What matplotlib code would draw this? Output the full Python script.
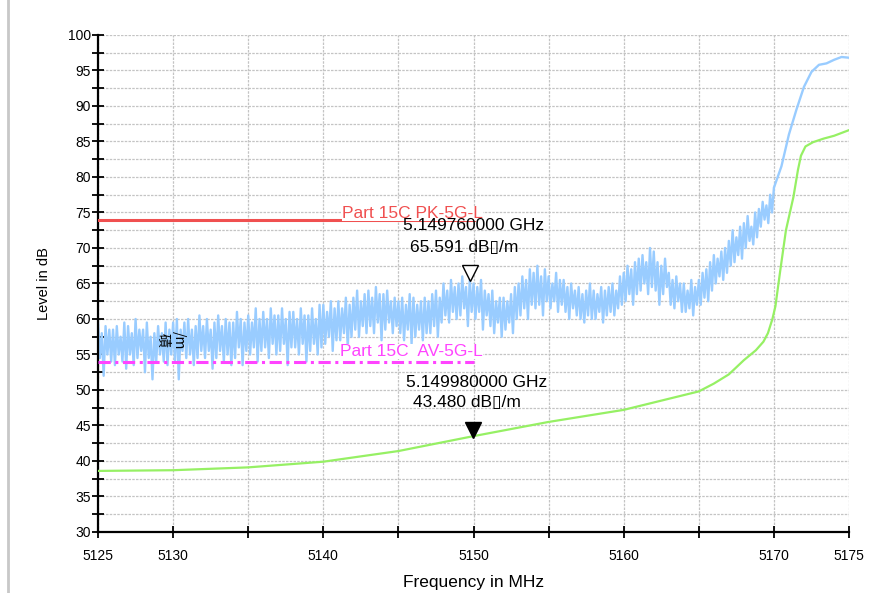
import numpy as np
import matplotlib
matplotlib.use("Agg")
import matplotlib.pyplot as plt
from matplotlib.ticker import FixedLocator, FixedFormatter, MultipleLocator
from matplotlib.transforms import offset_copy
from matplotlib.lines import Line2D

plt.rcParams['font.family'] = ['Liberation Sans', 'DejaVu Sans']

# peak trace (blue), read as high / low excursions every 0.25 MHz from 5125
pk_start = 5125.0
pk_step = 0.25
pk_hi = [
    59.5, 58.0, 59.0, 58.5, 58.5, 59.0, 57.5, 59.5,
    59.0, 58.0, 60.0, 58.5, 58.5, 59.5, 57.5, 58.0,
    59.0, 58.0, 59.5, 58.5, 59.5, 60.0, 58.5, 59.5,
    60.0, 58.5, 59.0, 60.5, 59.0, 60.0, 58.5, 59.5,
    60.5, 59.0, 60.0, 59.5, 59.5, 61.0, 60.0, 59.5,
    60.5, 59.5, 61.5, 60.0, 61.0, 60.0, 61.5, 60.5,
    60.5, 61.5, 60.0, 61.0, 61.0, 60.0, 61.5, 60.5,
    60.5, 61.5, 60.0, 62.0, 62.0, 61.0, 62.5, 61.5,
    62.5, 61.5, 63.0, 62.0, 63.0, 64.0, 62.5, 63.5,
    64.0, 63.0, 64.5, 63.5, 63.5, 64.0, 62.5, 63.0,
    62.5, 63.0, 62.0, 63.5, 63.0, 62.0, 62.5, 63.0,
    62.5, 63.5, 64.0, 63.0, 65.0, 64.0, 65.5, 64.5,
    65.0, 66.0, 64.5, 65.6, 65.0, 64.5, 65.5, 64.0,
    63.5, 64.0, 62.5, 63.0, 63.0, 62.5, 63.5, 64.5,
    65.0, 66.0, 65.5, 67.0, 66.5, 67.5, 66.0, 67.0,
    66.0, 65.0, 66.5, 65.5, 65.5, 64.5, 65.0, 64.0,
    64.5, 63.5, 64.0, 65.0, 64.0, 63.5, 64.5, 64.0,
    64.5, 65.0, 64.0, 66.0, 66.5, 67.5, 67.0, 68.0,
    68.5, 69.0, 68.0, 70.0, 69.5, 68.0, 67.5, 68.5,
    66.5, 65.5, 66.0, 65.0, 65.0, 64.0, 65.5, 64.5,
    65.5, 66.5, 67.0, 68.0, 69.0, 68.5, 69.5, 70.0,
    71.0, 72.5, 71.5, 73.0, 73.5, 74.5, 73.0, 75.0,
    75.5, 76.5, 76.0, 77.5,
]
pk_lo = [
    54.5, 52.0, 55.0, 54.0, 53.5, 55.0, 54.0, 53.0,
    55.0, 53.5, 54.5, 55.5, 52.5, 54.5, 51.5, 54.0,
    55.0, 54.0, 53.5, 55.0, 54.0, 51.5, 55.5, 54.5,
    55.0, 53.5, 54.5, 55.5, 54.5, 55.5, 53.0, 54.5,
    55.5, 54.0, 55.0, 53.5, 54.5, 56.0, 53.5, 55.5,
    55.0, 56.0, 54.0, 55.5, 56.0, 54.5, 56.5, 55.0,
    55.5, 56.5, 53.5, 56.0, 56.0, 55.0, 56.5, 54.0,
    55.5, 56.5, 55.0, 56.0, 56.5, 57.5, 55.5, 57.0,
    57.0, 58.0, 56.0, 57.5, 58.5, 57.5, 59.0, 58.0,
    59.0, 58.0, 59.5, 57.0, 58.5, 59.5, 58.0, 59.0,
    58.0, 57.0, 58.5, 56.5, 57.5, 58.5, 57.0, 58.0,
    58.0, 59.0, 57.5, 59.5, 60.5, 59.5, 61.0, 60.0,
    60.5, 61.5, 59.0, 61.0, 60.0, 61.0, 58.5, 60.5,
    59.0, 58.0, 59.5, 57.5, 58.5, 59.5, 58.0, 60.0,
    60.5, 61.5, 60.0, 62.0, 61.5, 62.0, 60.5, 62.5,
    61.5, 62.5, 61.0, 62.0, 61.0, 60.0, 61.5, 60.5,
    60.0, 59.5, 60.5, 60.0, 60.0, 61.0, 59.5, 60.5,
    61.0, 60.5, 61.5, 62.0, 62.5, 63.5, 62.0, 63.5,
    64.0, 65.0, 63.5, 64.5, 64.0, 62.0, 63.5, 64.5,
    62.0, 61.5, 62.5, 61.0, 61.0, 61.5, 60.5, 62.0,
    62.0, 63.0, 62.5, 64.0, 65.0, 66.0, 65.5, 66.5,
    67.5, 68.0, 69.0, 68.5, 70.0, 71.0, 70.5, 71.5,
    73.0, 74.0, 73.5, 75.0,
]
# band edge rise of the peak trace
pk_rise_freq = [5170.0, 5170.5, 5171.0, 5171.5, 5172.0, 5172.5, 5173.0, 5173.5, 5174.0, 5174.5, 5175.0]
pk_rise_level = [78.5, 81.5, 86.0, 89.5, 92.7, 94.8, 95.8, 96.0, 96.5, 96.9, 96.8]

# average trace (green)
av_freq = [5125, 5130, 5135, 5140, 5145, 5150, 5155, 5160, 5165, 5166, 5167,
           5168, 5168.8, 5169.3, 5169.6, 5169.9, 5170.1, 5170.4, 5170.8, 5171.3,
           5171.6, 5171.8, 5172.1, 5172.6, 5173.3, 5174, 5175]
av_level = [38.6, 38.7, 39.1, 39.9, 41.4, 43.5, 45.5, 47.2, 49.8, 50.9, 52.2,
            54.2, 55.6, 56.8, 58.0, 60.0, 61.8, 66.5, 72.5, 77.2,
            81.0, 83.0, 84.3, 84.9, 85.4, 85.8, 86.6]

# limit lines
pk_limit = 74
av_limit = 54
limit_start, limit_stop = 5125, 5150
pk_limit_name = "Part 15C PK-5G-L"
av_limit_name = "Part 15C  AV-5G-L"

# markers
mk1_freq, mk1_level = 5149.76, 65.591
mk2_freq, mk2_level = 5149.98, 43.480
mk1_lines = ["5.149760000 GHz", "65.591 dB\u25af/m"]
mk2_lines = ["5.149980000 GHz", "43.480 dB\u25af/m"]

x_ticks = [5125, 5130, 5135, 5140, 5145, 5150, 5155, 5160, 5165, 5170, 5175]
x_tick_labels = ["5125", "5130", "", "5140", "", "5150", "", "5160", "", "5170", "5175"]

# build blue trace: interleave highs and lows
n = len(pk_hi)
f = pk_start + pk_step * np.arange(n)
pk_x = np.column_stack([f, f + pk_step / 2]).ravel()
pk_y = np.column_stack([pk_hi, pk_lo]).ravel()
pk_x = np.concatenate([pk_x, pk_rise_freq])
pk_y = np.concatenate([pk_y, pk_rise_level])

fig = plt.figure(figsize=(8.8, 5.93), dpi=100)
ax = fig.add_axes([0.1114, 0.1029, 0.8534, 0.8381])

grid_kw = dict(color="#c4c4c4", lw=0.9, ls=(0, (2, 1)))
ax.set_xlim(5125, 5175)
ax.set_ylim(30, 100)
ax.xaxis.set_major_locator(FixedLocator(x_ticks))
ax.xaxis.set_major_formatter(FixedFormatter(x_tick_labels))
ax.yaxis.set_major_locator(MultipleLocator(5))
ax.yaxis.set_minor_locator(MultipleLocator(2.5))
ax.grid(True, which="both", axis="y", **grid_kw)
ax.grid(True, which="major", axis="x", **grid_kw)
ax.set_axisbelow(True)

for s in ["top", "right"]:
    ax.spines[s].set_visible(False)
for s in ["left", "bottom"]:
    ax.spines[s].set_linewidth(1.6)
ax.tick_params(axis="y", which="both", direction="inout", length=8, width=1.3, pad=1, labelsize=10)
ax.tick_params(axis="x", which="both", direction="inout", length=8, width=1.3, pad=8, labelsize=10)

ax.plot(pk_x, pk_y, color="#99ccff", lw=1.7, zorder=2)
ax.plot(av_freq, av_level, color="#96f064", lw=1.6, zorder=3)

ax.plot([limit_start, limit_stop], [pk_limit, pk_limit], color="#f05050", lw=2.2, zorder=3)
ax.plot([limit_start, limit_stop], [av_limit, av_limit], color="#ff44ff", lw=2.2,
        ls=(0, (4, 1.5, 1, 1.5)), zorder=3)

ax.annotate(pk_limit_name, (limit_stop + 0.6, pk_limit), xytext=(0, -1), textcoords="offset points",
            ha="right", va="bottom", fontsize=12.5, color="#f05050",
            bbox=dict(facecolor="white", edgecolor="none", pad=0), zorder=4)
ax.annotate(av_limit_name, (limit_stop + 0.6, av_limit), xytext=(0, 2), textcoords="offset points",
            ha="right", va="bottom", fontsize=12.5, color="#ff44ff",
            bbox=dict(facecolor="white", edgecolor="none", pad=0), zorder=4)

up = offset_copy(ax.transData, fig=fig, x=0, y=4.8, units="points")
ax.plot(mk1_freq, mk1_level, marker="v", ms=11, mfc="white", mec="black", mew=1.0,
        transform=up, zorder=5)
ax.plot(mk2_freq, mk2_level, marker="v", ms=11, mfc="black", mec="black",
        transform=up, zorder=5)

ax.text(5150.0, 73.1, mk1_lines[0], ha="center", va="center", fontsize=12.5, zorder=5)
ax.text(5149.4, 70.1, mk1_lines[1], ha="center", va="center", fontsize=12.5, zorder=5)
ax.text(5150.2, 51.0, mk2_lines[0], ha="center", va="center", fontsize=12.5, zorder=5)
ax.text(5149.55, 48.2, mk2_lines[1], ha="center", va="center", fontsize=12.5, zorder=5)

# garbled unit label left on the trace
cjk = ["Noto Sans CJK SC", "DejaVu Sans"]
ax.text(5129.3, 57.0, "磧", rotation=-90, ha="center", va="center", fontsize=10, family=cjk, zorder=5)
ax.text(5130.4, 57.0, "/m", rotation=-90, ha="center", va="center", fontsize=10, family=cjk, zorder=5)

ax.set_xlabel("Frequency in MHz", fontsize=12.5, labelpad=9)
ax.set_ylabel("Level in dB", fontsize=10.5, labelpad=12)

# outer panel frame
fig.add_artist(Line2D([8 / 880, 8 / 880], [0, 1], color="#c8c8c8", lw=2))

fig.savefig("out.png", dpi=100)
